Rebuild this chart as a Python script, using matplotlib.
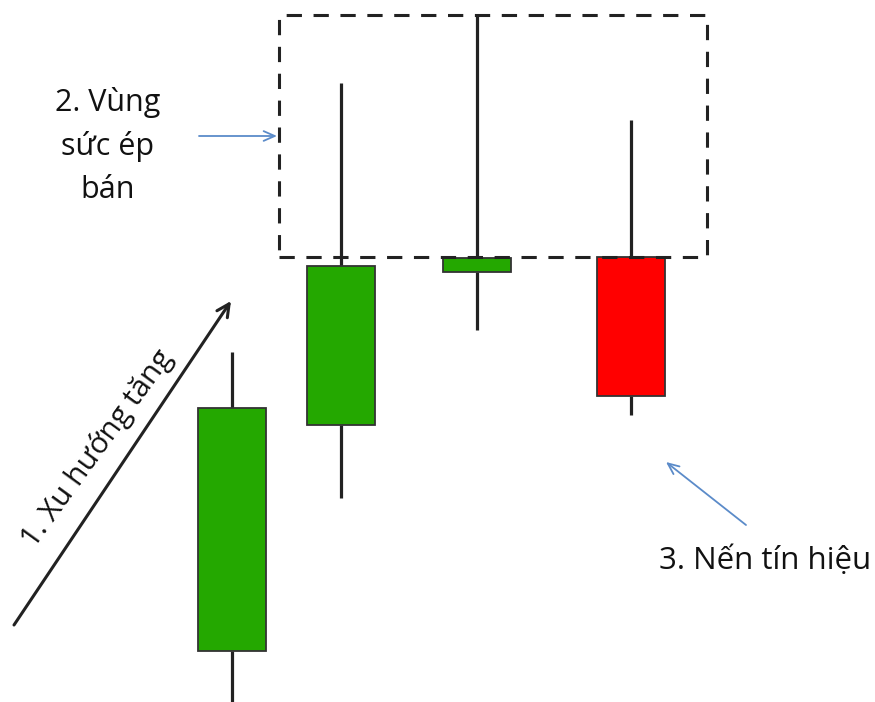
import matplotlib
matplotlib.use("Agg")
import matplotlib.pyplot as plt
from matplotlib.patches import Rectangle

# Candle data (price units; higher = up)
candle_x = [232, 341, 477, 631]
opens  = [51, 277, 430, 445]
closes = [294, 436, 444, 306]
highs  = [350, 619, 687, 582]
lows   = [-5, 204, 372, 287]

label_zone = "2. Vùng\nsức ép\nbán"
label_trend = "1. Xu hướng tăng"
label_signal = "3. Nến tín hiệu"

W, H = 875, 702
fig = plt.figure(figsize=(W / 100, H / 100), dpi=100)
ax = fig.add_axes([0, 0, 1, 1])
ax.set_xlim(0, W)
ax.set_ylim(0, H)
ax.axis("off")

green = "#24A800"
red = "#FF0000"
edge = "#333333"
body_w = 68

for x, o, c, hi, lo in zip(candle_x, opens, closes, highs, lows):
    top, bot = max(o, c), min(o, c)
    ax.plot([x, x], [top, hi], color="#222222", lw=2.3, solid_capstyle="butt", zorder=2)
    ax.plot([x, x], [lo, bot], color="#222222", lw=2.3, solid_capstyle="butt", zorder=2)
    col = green if c > o else red
    ax.add_patch(Rectangle((x - body_w / 2, bot), body_w, top - bot,
                           facecolor=col, edgecolor=edge, lw=1.3, zorder=3))

# Dashed selling-pressure zone
zone_left, zone_right = 279, 707
zone_bottom, zone_top = 702 - 257, 702 - 15
ax.add_patch(Rectangle((zone_left, zone_bottom), zone_right - zone_left, zone_top - zone_bottom,
                       fill=False, edgecolor="#222222", lw=2.2, linestyle=(0, (5.0, 3.8)), zorder=4))

# Trend arrow
ax.annotate("", xy=(231, 702 - 301), xytext=(14, 702 - 625),
            arrowprops=dict(arrowstyle="->,head_length=0.9,head_width=0.45",
                            color="#222222", lw=2.2, shrinkA=0, shrinkB=0))
ax.text(97, 702 - 449, label_trend, rotation=54, ha="center", va="center",
        fontsize=21.5, family="Open Sans", color="#111111", rotation_mode="anchor")

# Zone label and arrow
ax.text(108, 702 - 146, label_zone, ha="center", va="center", fontsize=22,
        family="Open Sans", color="#111111", linespacing=1.55)
ax.annotate("", xy=(277, 702 - 136), xytext=(199, 702 - 136),
            arrowprops=dict(arrowstyle="->,head_length=0.8,head_width=0.35",
                            color="#5B8BC9", lw=1.3, shrinkA=0, shrinkB=0))

# Signal candle label and arrow
ax.annotate("", xy=(666, 702 - 462), xytext=(746, 702 - 525),
            arrowprops=dict(arrowstyle="->,head_length=0.8,head_width=0.35",
                            color="#5B8BC9", lw=1.3, shrinkA=0, shrinkB=0))
ax.text(765, 702 - 561, label_signal, ha="center", va="center", fontsize=22.5,
        family="Open Sans", color="#111111")

fig.savefig("out.png", dpi=100)
